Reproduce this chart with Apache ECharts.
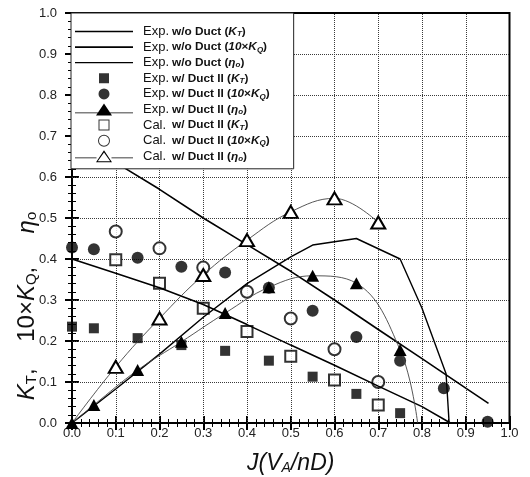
<!DOCTYPE html>
<html>
<head>
<meta charset="utf-8">
<script src="https://cdn.jsdelivr.net/npm/echarts@6/dist/echarts.min.js"></script>
<style>
  html, body { margin: 0; background: #fff; }
  #chart { width: 530px; height: 477px; }
</style>
</head>
<body>
<div id="chart"></div>
<script>
// ticks
var xTicks = [0, 0.1, 0.2, 0.3, 0.4, 0.5, 0.6, 0.7, 0.8, 0.9, 1.0];
var yTicks = [0, 0.1, 0.2, 0.3, 0.4, 0.5, 0.6, 0.7, 0.8, 0.9, 1.0];

// Exp. w/o Duct (lines)
var ktWoJ = [0, 0.1, 0.2, 0.3, 0.4, 0.5, 0.6, 0.7, 0.8, 0.865];
var ktWo = [0.40, 0.365, 0.33, 0.289, 0.24, 0.19, 0.141, 0.09, 0.04, 0.0];
var kqWoJ = [0, 0.1, 0.2, 0.3, 0.4, 0.5, 0.6, 0.7, 0.8, 0.9, 0.952];
var kqWo = [0.70, 0.635, 0.57, 0.50, 0.435, 0.37, 0.30, 0.228, 0.157, 0.085, 0.048];
var etaWoJ = [0, 0.1, 0.2, 0.3, 0.4, 0.5, 0.55, 0.65, 0.75, 0.8, 0.855, 0.862];
var etaWo = [0, 0.083, 0.168, 0.258, 0.34, 0.405, 0.434, 0.45, 0.40, 0.28, 0.12, 0.0];

// Exp. w/ Duct II (symbols)
var ktExpJ = [0, 0.05, 0.15, 0.25, 0.35, 0.45, 0.55, 0.65, 0.75];
var ktExp = [0.235, 0.231, 0.207, 0.19, 0.176, 0.152, 0.113, 0.071, 0.024];
var kqExpJ = [0, 0.05, 0.15, 0.25, 0.35, 0.45, 0.55, 0.65, 0.75, 0.85, 0.95];
var kqExp = [0.428, 0.424, 0.403, 0.381, 0.367, 0.33, 0.274, 0.21, 0.152, 0.085, 0.003];
var etaExpJ = [0, 0.05, 0.15, 0.25, 0.35, 0.45, 0.55, 0.65, 0.75, 0.79];
var etaExp = [0, 0.044, 0.129, 0.198, 0.268, 0.331, 0.359, 0.341, 0.178, 0.0];

// Cal. w/ Duct II
var calJ = [0.1, 0.2, 0.3, 0.4, 0.5, 0.6, 0.7];
var ktCal = [0.398, 0.341, 0.28, 0.223, 0.163, 0.105, 0.044];
var kqCal = [0.467, 0.426, 0.379, 0.32, 0.255, 0.18, 0.10];
var etaCalJ = [0, 0.1, 0.2, 0.3, 0.4, 0.5, 0.6, 0.7];
var etaCal = [0, 0.137, 0.255, 0.361, 0.446, 0.515, 0.548, 0.489];

var seriesNames = [
  'Exp. w/o Duct (KT)', 'Exp. w/o Duct (10KQ)', 'Exp. w/o Duct (eta)',
  'Exp. w/ Duct II (KT)', 'Exp. w/ Duct II (10KQ)', 'Exp. w/ Duct II (eta)',
  'Cal. w/ Duct II (KT)', 'Cal. w/ Duct II (10KQ)', 'Cal. w/ Duct II (eta)'
];
var legendLabels = [
  '{e|Exp.}{b|w/o Duct (}{i|K}{s|T}{b|)}',
  '{e|Exp.}{b|w/o Duct (}{bi|10}{b|×}{i|K}{s|Q}{b|)}',
  '{e|Exp.}{b|w/o Duct (}{i|η}{s|o}{b|)}',
  '{e|Exp.}{b|w/ Duct II (}{i|K}{s|T}{b|)}',
  '{e|Exp.}{b|w/ Duct II (}{bi|10}{b|×}{i|K}{s|Q}{b|)}',
  '{e|Exp.}{b|w/ Duct II (}{i|η}{s|o}{b|)}',
  '{e|Cal.}{b|w/ Duct II (}{i|K}{s|T}{b|)}',
  '{e|Cal.}{b|w/ Duct II (}{bi|10}{b|×}{i|K}{s|Q}{b|)}',
  '{e|Cal.}{b|w/ Duct II (}{i|η}{s|o}{b|)}'
];

// legend icons, all in a 58x12 box
var box = 'M0,0L0,0Z M58,12L58,12Z ';
var icons = [
  box + 'M0,5.2H58V6.8H0Z',
  box + 'M0,5.2H58V6.8H0Z',
  box + 'M0,5.4H58V6.6H0Z',
  box + 'M24,1H34V11H24Z',
  box + 'M23.5,6A5.5,5.5 0 1,1 34.5,6A5.5,5.5 0 1,1 23.5,6Z',
  box + 'M0,9H58V9.8H0Z M29,0L37,12H21Z',
  box + 'M23.5,0.5H34.5V11.5H23.5Z M24.5,1.5V10.5H33.5V1.5Z',
  box + 'M23,6A6,6 0 1,1 35,6A6,6 0 1,1 23,6Z M24,6A5,5 0 1,0 34,6A5,5 0 1,0 24,6Z',
  box + 'M0,7.2H21.5V8H0Z M36.5,7.2H58V8H36.5Z M29,0L37,12H21Z M29,2.2L22.8,11H35.2Z'
];

function pts(xs, ys) {
  return xs.map(function (x, i) { return [x, ys[i]]; });
}

var chart = echarts.init(document.getElementById('chart'));

var font = 'Liberation Sans, Arial';

// axis carrying only the tick labels
function labelAxis(pos, margin) {
  return {
    type: 'value', position: pos, min: 0, max: 1, interval: 0.1,
    axisLine: { show: false }, axisTick: { show: false }, splitLine: { show: false },
    axisLabel: {
      show: true, showMinLabel: true, showMaxLabel: true, margin: margin,
      color: '#222', fontSize: 13, fontFamily: font,
      formatter: function (v) { return v.toFixed(1); }
    }
  };
}
// axis for ticks only
function tickAxis(pos, step, len, width) {
  return {
    type: 'value', position: pos, min: 0, max: 1, interval: step,
    axisLine: { show: false },
    axisTick: { show: true, inside: true, length: len, lineStyle: { color: '#000', width: width } },
    axisLabel: { show: false },
    splitLine: { show: false }
  };
}
// major tick axes: 0.1 step expressed as ten splits of 0..1
function majorAxis(pos) {
  var a = tickAxis(pos, 0.1, 7, 2);
  delete a.interval;
  a.splitNumber = 10;
  return a;
}

var xMain = labelAxis('bottom', 4);
xMain.name = '{i|J(V}{s|A}{i|/nD)}';
xMain.nameLocation = 'middle';
xMain.nameGap = 29;
xMain.nameMoveOverlap = false;
xMain.nameTextStyle = {
  rich: {
    i: { fontSize: 23, fontStyle: 'italic', fontFamily: font, color: '#111' },
    s: { fontSize: 14, fontStyle: 'italic', fontFamily: font, color: '#111', padding: [9, 0, 0, 0] }
  }
};

var yMain = labelAxis('left', 15);
yMain.name = '{i|K}{s|T}{n|,    10×}{i|K}{s|Q}{n|,     }{i|η}{s|o}';
yMain.nameLocation = 'middle';
yMain.nameGap = 33;
yMain.nameMoveOverlap = false;
yMain.nameTextStyle = {
  padding: [0, 176, 0, 0],
  rich: {
    i: { fontSize: 24, fontStyle: 'italic', fontFamily: font, color: '#111' },
    n: { fontSize: 24, fontFamily: font, color: '#111' },
    s: { fontSize: 15, fontFamily: font, color: '#111', padding: [9, 0, 0, 0] }
  }
};

// grid lines from the tick arrays
var gridLines = xTicks.slice(1, -1).map(function (v) { return { xAxis: v }; })
  .concat(yTicks.slice(1, -1).map(function (v) { return { yAxis: v }; }));

var series = [
  {
    type: 'line', data: pts(ktWoJ, ktWo), symbol: 'none', lineStyle: { color: '#000', width: 1.6 },
    markLine: {
      silent: true, symbol: 'none', label: { show: false }, animation: false, z: 1,
      lineStyle: { color: '#3a3a3a', width: 1, type: 'dotted' },
      emphasis: { disabled: true },
      data: gridLines
    }
  },
  { type: 'line', data: pts(kqWoJ, kqWo), symbol: 'none', lineStyle: { color: '#000', width: 1.6 } },
  { type: 'line', data: pts(etaWoJ, etaWo), symbol: 'none', lineStyle: { color: '#000', width: 1.4 } },
  { type: 'scatter', data: pts(ktExpJ, ktExp), symbol: 'rect', symbolSize: 10 },
  { type: 'scatter', data: pts(kqExpJ, kqExp), symbol: 'circle', symbolSize: 12 },
  {
    type: 'line', smooth: 0.4, symbol: 'triangle', symbolSize: [13, 12], showAllSymbol: true, z: 4,
    data: pts(etaExpJ, etaExp).map(function (p, i) {
      return i === etaExpJ.length - 1 ? { value: p, symbol: 'none' } : p;
    }),
    lineStyle: { color: '#444', width: 0.9 }
  },
  { type: 'scatter', data: pts(calJ, ktCal), symbol: 'emptyRect', symbolSize: 11, itemStyle: { color: '#000', borderWidth: 1 } },
  { type: 'scatter', data: pts(calJ, kqCal), symbol: 'emptyCircle', symbolSize: 12, itemStyle: { color: '#000', borderWidth: 1 } },
  {
    type: 'line', smooth: 0.4, symbol: 'emptyTriangle', symbolSize: [14, 12], showAllSymbol: true,
    data: pts(etaCalJ, etaCal).map(function (p, i) {
      return i === 0 ? { value: p, symbol: 'none' } : p;
    }),
    itemStyle: { color: '#000', borderWidth: 1 },
    lineStyle: { color: '#444', width: 0.9 }
  }
];
series.forEach(function (s, i) {
  s.name = seriesNames[i];
  s.xAxisIndex = 0;
  s.yAxisIndex = 0;
  s.animation = false;
  s.color = '#000';
  if (!s.itemStyle) s.itemStyle = { color: '#000' };
});

chart.setOption({
  animation: false,
  color: ['#000'],
  grid: {
    left: 72, right: 20.5, top: 13, bottom: 54, outerBoundsMode: 'none',
    show: true, borderColor: '#000', borderWidth: 2, backgroundColor: 'transparent'
  },
  xAxis: [
    xMain,
    majorAxis('bottom'), majorAxis('top'),
    tickAxis('bottom', 0.02, 4, 1), tickAxis('top', 0.02, 4, 1)
  ],
  yAxis: [
    yMain,
    majorAxis('left'), majorAxis('right'),
    tickAxis('left', 0.02, 4, 1), tickAxis('right', 0.02, 4, 1)
  ],
  legend: {
    orient: 'vertical', left: 71, top: 13, z: 10,
    padding: [12, 24, 6, 4],
    itemWidth: 58, itemHeight: 12, itemGap: 2.6,
    backgroundColor: '#fff', borderColor: '#222', borderWidth: 1, borderRadius: 0,
    selectedMode: false,
    itemStyle: { borderWidth: 0 },
    data: seriesNames.map(function (n, i) {
      return { name: n, icon: 'path://' + icons[i], itemStyle: { color: '#000', borderWidth: 0 } };
    }),
    formatter: function (name) { return legendLabels[seriesNames.indexOf(name)]; },
    textStyle: {
      rich: {
        e: { fontSize: 13, fontFamily: font, color: '#111', width: 29, padding: [0, 0, 0, 5], lineHeight: 14 },
        b: { fontSize: 11.8, fontWeight: 'bold', fontFamily: font, color: '#111', lineHeight: 14 },
        bi: { fontSize: 11.8, fontWeight: 'bold', fontStyle: 'italic', fontFamily: font, color: '#111', lineHeight: 14 },
        i: { fontSize: 11.8, fontWeight: 'bold', fontStyle: 'italic', fontFamily: font, color: '#111', lineHeight: 14 },
        s: { fontSize: 8, fontWeight: 'bold', fontStyle: 'italic', fontFamily: font, color: '#111', padding: [5, 0, 0, 0], lineHeight: 10 }
      }
    }
  },
  series: series
});
</script>
</body>
</html>
